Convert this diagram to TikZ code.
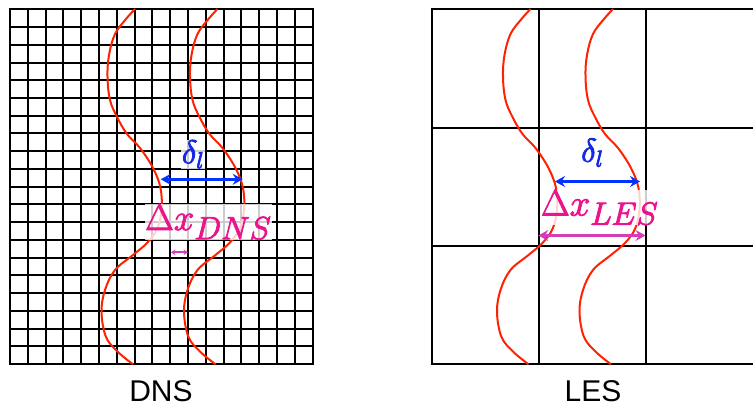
\RequirePackage{fix-cm}
\documentclass[tikz,border=0pt]{standalone}
\usepackage{fontspec}
\newfontfamily\labfont{Liberation Sans}
\usetikzlibrary{arrows.meta}
\DeclareMathSizes{37}{37}{32}{24}
\DeclareMathSizes{33}{33}{23}{16}
\newcommand\heavytext[1]{\special{pdf:literal direct 2 Tr 0.9 w}#1\special{pdf:literal direct 0 Tr}}
\definecolor{frontred}{RGB}{255,34,0}
\definecolor{deltablue}{RGB}{0,51,255}
\definecolor{deltatext}{RGB}{20,40,230}
\definecolor{dxpink}{RGB}{235,20,140}
\definecolor{dxarrow}{RGB}{214,60,184}
\tikzset{
  gridline/.style={line width=1.5pt, black, line cap=rect},
  frontline/.style={line width=2pt, frontred},
  deltalabel/.style={fill=white, fill opacity=0.8, text opacity=1, text=deltatext, inner sep=0.5pt, anchor=base,
    font=\fontsize{33}{38}\selectfont},
  dxlabel/.style={fill=white, fill opacity=0.8, text opacity=1, text=dxpink, inner sep=0.5pt, anchor=base,
    font=\fontsize{37}{42}\selectfont},
  bluearrow/.style={line width=2.6pt, deltablue, {Stealth[length=10pt,width=11pt,inset=3.5pt]}-{Stealth[length=10pt,width=11pt,inset=3.5pt]}},
  pinkarrow/.style={line width=2.6pt, dxarrow, {Stealth[length=10pt,width=11pt,inset=3.5pt]}-{Stealth[length=10pt,width=11pt,inset=3.5pt]}},
  smallarrow/.style={line width=1.8pt, dxarrow, {Stealth[length=4.5pt,width=5.5pt,inset=1.5pt]}-{Stealth[length=4.5pt,width=5.5pt,inset=1.5pt]}},
  caption/.style={anchor=base, font=\labfont\fontsize{30}{36}\selectfont, text=black, inner sep=0pt, text depth=0pt}
}
\begin{document}
\begin{tikzpicture}[x=1pt,y=-1pt]
\useasboundingbox (0,0) rectangle (753,406);
% DNS grid
\foreach \i in {0,...,17}{
  \pgfmathsetmacro\gx{round(10+\i*17.8)}
  \draw[gridline] (\gx,9) -- (\gx,364);
}
\foreach \j in {0,...,20}{
  \pgfmathsetmacro\gy{round(9.3+\j*17.74)}
  \draw[gridline] (10,\gy) -- (313,\gy);
}
% LES grid
\foreach \xx in {432,539,646} \draw[gridline] (\xx,9) -- (\xx,364);
\foreach \yy in {9,128,246,364} \draw[gridline] (432,\yy) -- (753,\yy);
% flame fronts
\foreach \dx in {0,82.5,395.5,478}{
  \begin{scope}[xshift=\dx pt]
  \draw[frontline] plot[smooth, tension=0.6] coordinates {(135,9) (126,19) (115,34) (109,55) (107.5,77) (110,100) (117,117) (127,134) (140,148) (153,168) (160.5,188) (161.5,210) (157,229) (147,243) (133,255) (115,270) (105,290) (101.5,312) (106,337) (118,352) (133,364.3)};
  \end{scope}
}
% labels
\node[deltalabel] (dnsdelta) at (193,163.3) {\heavytext{$\delta_l$}};
\node[dxlabel] (dnsdx) at (208.3,230) {\heavytext{$\Delta x_{DNS}$}};
\node[deltalabel] (lesdelta) at (592.3,161.7) {\heavytext{$\delta_l$}};
\node[dxlabel] (lesdx) at (599.7,215.5) {\heavytext{$\Delta x_{LES}$}};
% arrows
\coordinate (dnsl) at (160.7,179.3);
\coordinate (dnsr) at (242.7,179.3);
\draw[bluearrow] (dnsl) -- (dnsr);
\coordinate (dnscl) at (171,252.3);
\coordinate (dnscr) at (188,252.3);
\draw[smallarrow] (dnscl) -- (dnscr);
\coordinate (lesl) at (555,181.5);
\coordinate (lesr) at (640,181.5);
\draw[bluearrow] (lesl) -- (lesr);
\coordinate (lescl) at (538.3,235.5);
\coordinate (lescr) at (645.5,235.5);
\draw[pinkarrow] (lescl) -- (lescr);
% captions
\node[caption] (dnscap) at (161,401) {DNS};
\node[caption] (lescap) at (593,401) {LES};
\end{tikzpicture}
\end{document}
